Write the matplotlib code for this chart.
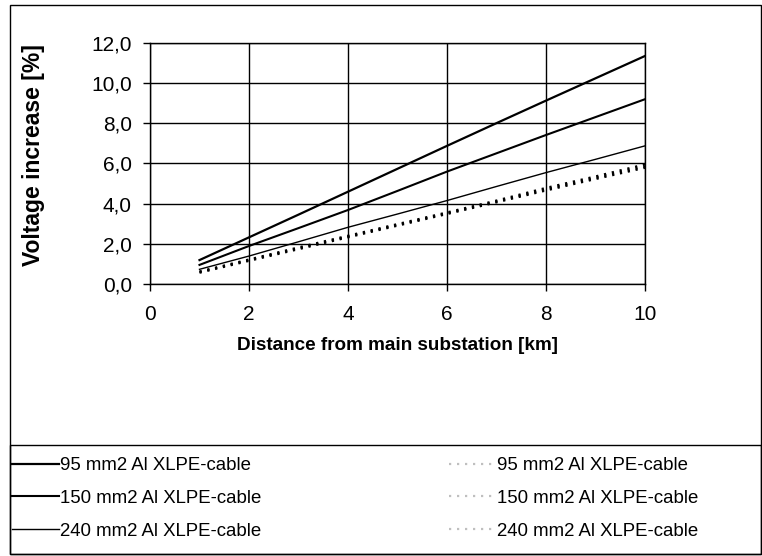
import matplotlib
matplotlib.use("Agg")
import matplotlib.pyplot as plt
from matplotlib.ticker import FuncFormatter, MultipleLocator
from matplotlib.patches import Rectangle

plt.rcParams['font.family'] = ['Liberation Sans', 'DejaVu Sans']

distance_km = [1, 2, 3, 4, 5, 6, 7, 8, 9, 10]
solid_labels = ["95 mm2 Al XLPE-cable", "150 mm2 Al XLPE-cable", "240 mm2 Al XLPE-cable"]
dotted_labels = ["95 mm2 Al XLPE-cable", "150 mm2 Al XLPE-cable", "240 mm2 Al XLPE-cable"]

solid_95 = [1.19, 2.32, 3.45, 4.59, 5.73, 6.87, 8.00, 9.12, 10.23, 11.34]
solid_150 = [0.95, 1.89, 2.78, 3.68, 4.63, 5.59, 6.50, 7.41, 8.30, 9.19]
solid_240 = [0.73, 1.39, 2.10, 2.82, 3.48, 4.15, 4.85, 5.54, 6.20, 6.87]
dotted_95 = [0.62, 1.22, 1.82, 2.40, 2.98, 3.56, 4.15, 4.78, 5.35, 5.95]
dotted_150 = [0.60, 1.19, 1.78, 2.36, 2.94, 3.52, 4.10, 4.71, 5.28, 5.86]
dotted_240 = [0.56, 1.15, 1.73, 2.32, 2.90, 3.48, 4.06, 4.65, 5.22, 5.78]

fig = plt.figure(figsize=(7.62, 5.56), dpi=100)
ax = fig.add_axes([150/762, 1-284/556, 495/762, (284-42.7)/556])

h1, = ax.plot(distance_km, solid_95, color='black', lw=1.6)
h2, = ax.plot(distance_km, solid_150, color='black', lw=1.5)
h3, = ax.plot(distance_km, solid_240, color='black', lw=1.0)
d1, = ax.plot(distance_km, dotted_95, color='black', lw=1.6, ls=(0, (1, 2.6)))
d2, = ax.plot(distance_km, dotted_150, color='black', lw=1.6, ls=(0, (1, 2.6)))
d3, = ax.plot(distance_km, dotted_240, color='black', lw=1.6, ls=(0, (1, 2.6)))

ax.set_xlim(0, 10)
ax.set_ylim(0, 12)
ax.xaxis.set_major_locator(MultipleLocator(2))
ax.yaxis.set_major_locator(MultipleLocator(2))
ax.yaxis.set_major_formatter(FuncFormatter(lambda v, p: f"{v:.1f}".replace('.', ',')))
ax.grid(True, color='black', lw=1.0)
ax.set_axisbelow(True)
for s in ax.spines.values():
    s.set_color('black')
    s.set_linewidth(1.0)
ax.tick_params(direction='out', length=5, width=1, labelsize=15, colors='black')
ax.tick_params(axis='y', pad=8)
ax.tick_params(axis='x', pad=10)

ax.set_xlabel("Distance from main substation [km]", fontsize=13.6, fontweight='bold')
ax.xaxis.set_label_coords(0.5, -(345-284)/241.3)
ax.xaxis.label.set_va('center')
ax.set_ylabel("Voltage increase [%]", fontsize=16.5, fontweight='bold')
ax.yaxis.set_label_coords((45-150)/495, (284-155)/241.3)

# outer frame and legend frame
fig.patches.append(Rectangle((10/762, 2/556), 751/762, 549/556, transform=fig.transFigure,
                             fill=False, edgecolor='black', lw=1.0))
fig.patches.append(Rectangle((10/762, 2/556), 751/762, (556-445-2)/556, transform=fig.transFigure,
                             fill=False, edgecolor='black', lw=1.0))

handles = [h1, h2, h3, d1, d2, d3]
labels = solid_labels + dotted_labels
leg = fig.legend(handles, labels, ncol=2, loc='upper left',
                 bbox_to_anchor=(12/762, 1-457/556),
                 fontsize=13.4, frameon=False, handlelength=2.5, handletextpad=0.1,
                 labelspacing=0.85, borderaxespad=0, borderpad=0,
                 columnspacing=10.05)
for lh in leg.legend_handles[3:]:
    lh.set_alpha(0.25)

fig.savefig("out.png", dpi=100)
